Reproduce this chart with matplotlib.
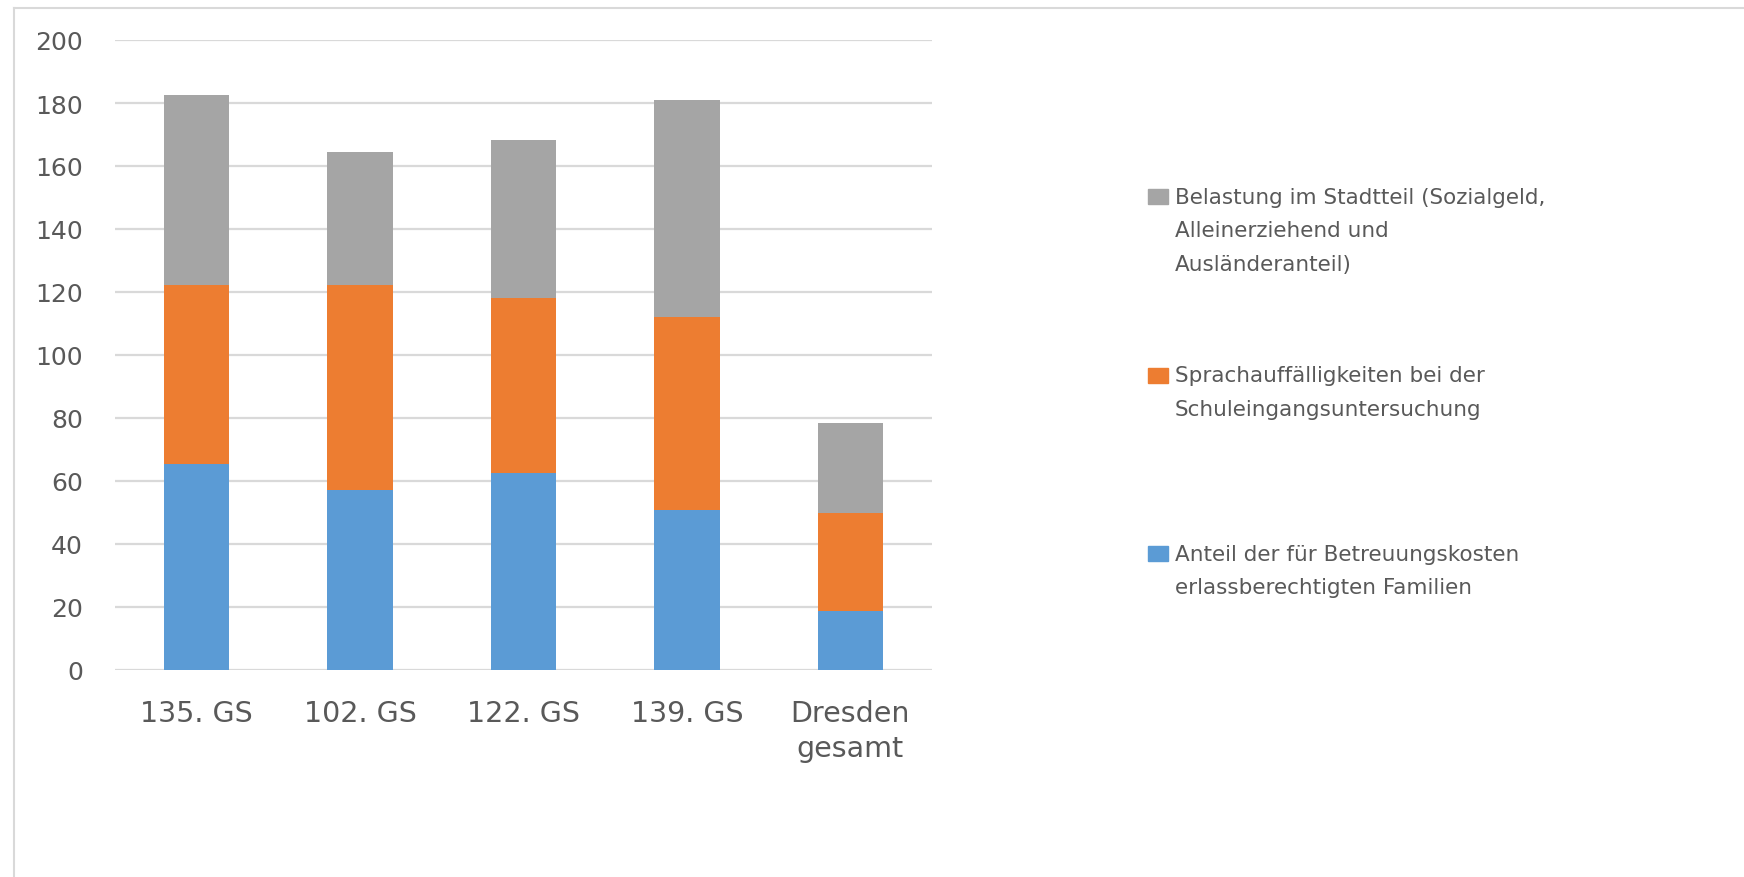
import matplotlib
matplotlib.use("Agg")
import matplotlib.pyplot as plt
from matplotlib.patches import Rectangle
from matplotlib.lines import Line2D
import numpy as np

plt.rcParams['font.family'] = ['DejaVu Sans']

# Schulen und Indikatorwerte (gestapelt)
schulen = ['135. GS', '102. GS', '122. GS', '139. GS', 'Dresden\ngesamt']
betreuung = [65.3, 57.0, 62.6, 50.7, 18.8]
sprache = [57.0, 65.3, 55.5, 61.3, 31.1]
belastung = [60.2, 42.3, 50.2, 69.1, 28.6]

y_ticks = [0, 20, 40, 60, 80, 100, 120, 140, 160, 180, 200]

serien = [
    ('Anteil der für Betreuungskosten\nerlassberechtigten Familien', betreuung, '#5B9BD5'),
    ('Sprachauffälligkeiten bei der\nSchuleingangsuntersuchung', sprache, '#ED7D31'),
    ('Belastung im Stadtteil (Sozialgeld,\nAlleinerziehend und\nAusländeranteil)', belastung, '#A5A5A5'),
]

textfarbe = '#595959'
W, H = 1744, 878

fig = plt.figure(figsize=(W / 100, H / 100), dpi=100)
ax = fig.add_axes([115 / W, 1 - 671 / H, 817 / W, 630 / H])

x = np.arange(len(schulen))
unten = np.zeros(len(schulen))
for name, werte, farbe in serien:
    ax.bar(x, werte, width=0.40, bottom=unten, color=farbe, zorder=3)
    unten += np.array(werte)

ax.set_xlim(-0.5, len(schulen) - 0.5)
ax.set_ylim(0, 200)
ax.set_yticks(y_ticks)
ax.set_xticks(x)
ax.set_xticklabels(schulen)
for lbl in ax.get_xticklabels():
    lbl.set_linespacing(1.3)

ax.grid(axis='y', color='#D9D9D9', linewidth=1.6, zorder=0)
for s in ax.spines.values():
    s.set_visible(False)
ax.tick_params(axis='y', length=0, pad=23, labelsize=18, labelcolor=textfarbe)
ax.tick_params(axis='x', length=0, pad=21, labelsize=20.5, labelcolor=textfarbe)

# Rahmen des Diagrammbereichs (links und oben)
fig.add_artist(Line2D([14 / W, 14 / W], [0, 1 - 9 / H], transform=fig.transFigure,
                      color='#D9D9D9', linewidth=1.5))
fig.add_artist(Line2D([14 / W, 1], [1 - 9 / H, 1 - 9 / H], transform=fig.transFigure,
                      color='#D9D9D9', linewidth=1.5))

# Legende: oberster Stapel zuerst
erste_basis = 204
abstand = 178.5
zeilenhoehe = 33.3
for i, (name, werte, farbe) in enumerate(reversed(serien)):
    basis = erste_basis + i * abstand
    fig.add_artist(Rectangle((1148 / W, 1 - (basis + 1) / H), 20 / W, 15 / H,
                             transform=fig.transFigure, color=farbe))
    for j, zeile in enumerate(name.split('\n')):
        fig.text(1175 / W, 1 - (basis + j * zeilenhoehe) / H, zeile,
                 fontsize=15.5, color=textfarbe, ha='left', va='baseline')

fig.savefig('out.png', dpi=100)
